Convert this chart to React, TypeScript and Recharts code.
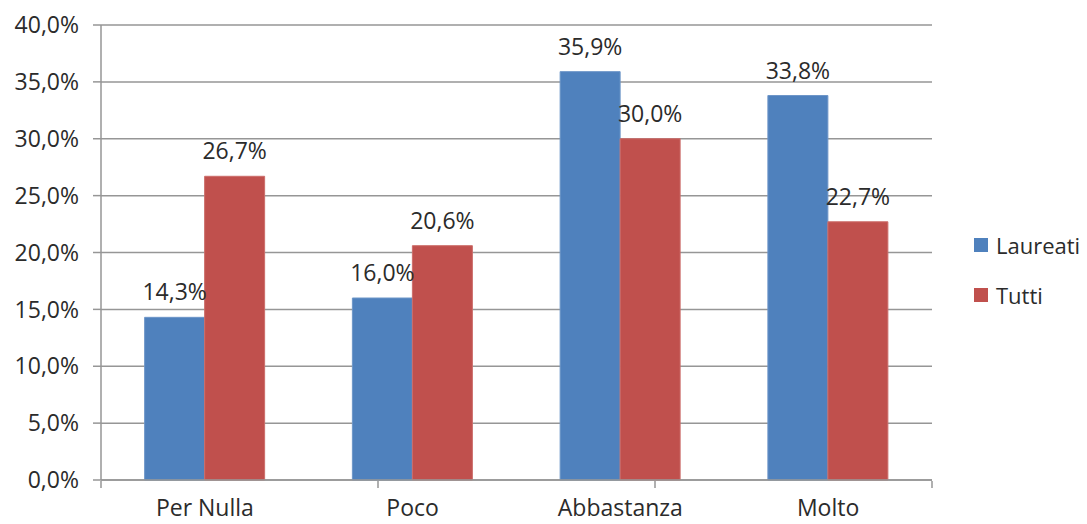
import { BarChart, Bar, XAxis, YAxis, CartesianGrid, LabelList } from "recharts";

const CATEGORIES = ["Per Nulla", "Poco", "Abbastanza", "Molto"];
const LAUREATI = [14.3, 16.0, 35.9, 33.8];
const TUTTI = [26.7, 20.6, 30.0, 22.7];
const Y_TICKS = [0, 5, 10, 15, 20, 25, 30, 35, 40];
const EDGE_TICKS = [0, 1, 2, 3, 4];
const SERIES = [
  { key: "laureati", label: "Laureati", color: "#4F81BD", edge: "#6d96c8" },
  { key: "tutti", label: "Tutti", color: "#C0504D", edge: "#cc6d6a" },
];

const AXIS = "#969696";
const TEXT = "#2b2b2b";
const FONT = "'Open Sans', sans-serif";

const pct = (v: number) => v.toFixed(1).replace(".", ",") + "%";

const data = CATEGORIES.map((name, i) => ({ name, laureati: LAUREATI[i], tutti: TUTTI[i] }));

export default function App() {
  return (
    <div style={{ position: "absolute", left: 0, top: 0, width: 1087, height: 524, background: "#fff" }}>
      <BarChart
        width={1087}
        height={524}
        data={data}
        margin={{ top: 25, right: 155, bottom: 0, left: 0 }}
        barGap={0}
        barCategoryGap="21%"
      >
        <CartesianGrid vertical={false} stroke={AXIS} strokeWidth={1.5} />
        {/* category labels; the boundary tick marks come from the second axis */}
        <XAxis
          dataKey="name"
          axisLine={{ stroke: AXIS, strokeWidth: 1.5 }}
          tickLine={false}
          tickSize={0}
          tickMargin={20}
          height={1}
          interval={0}
          tick={{ fill: TEXT, fontSize: 23, fontFamily: FONT }}
        />
        <XAxis
          xAxisId="edges"
          type="number"
          domain={[0, 4]}
          ticks={EDGE_TICKS}
          interval={0}
          tick={() => <g />}
          tickLine={{ stroke: AXIS, strokeWidth: 1.5 }}
          tickSize={7}
          axisLine={false}
          height={43}
        />
        <YAxis
          width={101}
          domain={[0, 40]}
          ticks={Y_TICKS}
          tickFormatter={pct}
          tickSize={8}
          tickMargin={14}
          interval={0}
          axisLine={{ stroke: AXIS, strokeWidth: 1.5 }}
          tickLine={{ stroke: AXIS, strokeWidth: 1.5 }}
          tick={{ fill: TEXT, fontSize: 23, fontFamily: FONT }}
        />
        {SERIES.map((s) => (
          <Bar key={s.key} dataKey={s.key} name={s.label} fill={s.color} stroke={s.edge} strokeWidth={1} isAnimationActive={false}>
            <LabelList dataKey={s.key} position="top" offset={17} formatter={(v: any) => pct(Number(v))} fill={TEXT} fontSize={23} fontFamily={FONT} />
          </Bar>
        ))}
      </BarChart>
      <div style={{ position: "absolute", left: 974, top: 220, fontFamily: FONT, color: TEXT }}>
        {SERIES.map((s) => (
          <div key={s.key} style={{ display: "flex", alignItems: "center", height: 50 }}>
            <span style={{ width: 14, height: 14, background: s.color, marginRight: 8, display: "inline-block" }} />
            <span style={{ fontSize: 22 }}>{s.label}</span>
          </div>
        ))}
      </div>
    </div>
  );
}
